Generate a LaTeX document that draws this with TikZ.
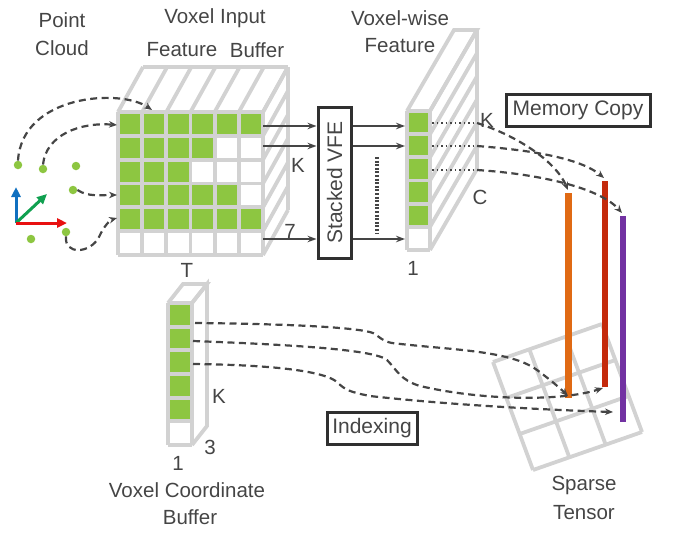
\documentclass[tikz,border=0pt]{standalone}
\usepackage{fontspec}
\setmainfont{Liberation Sans}
\usetikzlibrary{arrows.meta,calc}
\definecolor{gridc}{HTML}{D2D2D2}
\definecolor{vg}{HTML}{8DC641}
\definecolor{txt}{HTML}{454545}
\definecolor{barO}{HTML}{E06A14}
\definecolor{barR}{HTML}{C42A0C}
\definecolor{barP}{HTML}{7232A2}
\definecolor{axB}{HTML}{1070C0}
\definecolor{axG}{HTML}{10A050}
\definecolor{axR}{HTML}{E81010}
\tikzset{
 gl/.style={draw=gridc, line width=3.8},
 lbl/.style={text=txt, font=\fontsize{20.5}{23}\selectfont, inner sep=0},
 dsh/.style={draw=txt, line width=2.2, dash pattern=on 7pt off 4.5pt, -{Stealth[length=8pt,width=6.5pt]}},
 dtd/.style={draw=txt, line width=1.5, dash pattern=on 1.5pt off 3pt},
 sol/.style={draw=txt, line width=1.6, -{Stealth[length=9pt,width=6.5pt]}},
 boxed/.style={draw=txt!70!black, line width=3, text=txt, font=\fontsize{21}{23}\selectfont, inner sep=0},
 dotg/.style={fill=vg, circle, inner sep=0, minimum size=8.5pt},
 axis/.style={line width=3, -{Triangle[length=10pt,width=9pt]}},
}
\begin{document}
\begin{tikzpicture}[x=1pt,y=-1pt]
\useasboundingbox (0,0) rectangle (700,536);

% ---------- main voxel input feature buffer ----------
\def\cw{24.1667}\def\ch{23.8333}
% top face
\foreach \i in {0,...,6} \draw[gl] ({118+\i*\cw},112) -- ++(25,-45);
\draw[gl] (143,67) -- (288,67);
% right face
\foreach \j in {0,...,6} \draw[gl] (263,{112+\j*\ch}) -- ++(25,-45);
\draw[gl] (288,67) -- (288,210);
% front face
\fill[white] (118,112) rectangle (263,255);
\foreach \r/\n in {0/5,1/3,2/2,3/4,4/5}
  \foreach \c in {0,...,\n}
    \fill[vg] ({118+\c*\cw},{112+\r*\ch}) rectangle ++(\cw,\ch);
\foreach \i in {0,...,6} \draw[gl] ({118+\i*\cw},112) -- ++(0,143);
\foreach \j in {0,...,6} \draw[gl] (118,{112+\j*\ch}) -- ++(145,0);

% ---------- voxel-wise feature ----------
\def\vh{23.1667}
\draw[gl] (407,111) -- (454,30) -- (477,30) -- (430,111);
\foreach \j in {0,...,6} \draw[gl] (430,{111+\j*\vh}) -- ++(47,-81);
\draw[gl] (477,30) -- (477,169);
\fill[white] (407,111) rectangle (430,250);
\foreach \j in {0,...,4} \fill[vg] (407,{111+\j*\vh}) rectangle ++(23,\vh);
\foreach \j in {0,...,6} \draw[gl] (407,{111+\j*\vh}) -- ++(23,0);
\draw[gl] (407,111) -- (407,250) (430,111) -- (430,250);

% ---------- voxel coordinate buffer ----------
\def\bh{23.6667}
\draw[gl] (168,303) -- (183,284) -- (207,284) -- (192,303);
\draw[gl] (192,303) -- (207,284) -- (207,426) -- (192,445);
\fill[white] (168,303) rectangle (192,445);
\foreach \j in {0,...,4} \fill[vg] (168,{303+\j*\bh}) rectangle ++(24,\bh);
\foreach \j in {0,...,6} \draw[gl] (168,{303+\j*\bh}) -- ++(24,0);
\draw[gl] (168,303) -- (168,445) (192,303) -- (192,445);

% ---------- sparse tensor ----------
\foreach \i in {0,...,3} {
  \draw[gl] ({493+\i*109/3},{362-\i*38/3}) -- ++(40,108);
  \draw[gl] ({493+\i*40/3},{362+\i*108/3}) -- ++(109,-38);
}

% ---------- bars ----------
\draw[draw=barO, line width=7] (568,193) -- (568,398);
\draw[draw=barR, line width=6.5] (605,181) -- (605,387);
\draw[draw=barP, line width=6.5] (623,216) -- (623,422);

% ---------- labels ----------
\node[lbl] (lpoint) at (62,20) {Point};
\node[lbl] (lcloud) at (62,48) {Cloud};
\node[lbl] (lvin) at (215,18) {Voxel Input};
\node[lbl] (lfeat) at (182,50) {Feature};
\node[lbl] (lbuf) at (257,50) {Buffer};
\node[lbl] (lK1) at (298,165) {K};
\node[lbl] (l7) at (290,231) {7};
\node[lbl] (lT) at (187,270) {T};
\node[lbl] (lvw) at (400,18) {Voxel-wise};
\node[lbl] (lvf) at (400,46) {Feature};
\node[lbl] (lK2) at (487,120) {K};
\node[lbl] (lC) at (480,197) {C};
\node[lbl] (l1a) at (413,268) {1};
\node[lbl] (lK3) at (219,396) {K};
\node[lbl] (l3) at (210,447) {3};
\node[lbl] (l1b) at (178,463) {1};
\node[lbl] (lvc) at (187,490) {Voxel Coordinate};
\node[lbl] (lvcb) at (190,517) {Buffer};
\node[lbl] (lsp) at (584,485) {Sparse};
\node[lbl] (lte) at (584,513) {Tensor};

\node[boxed, minimum width=144, minimum height=32] (mem) at (578,110) {Memory Copy};
\node[boxed, minimum width=90, minimum height=32] (idx) at (372,428) {Indexing};
\node[boxed, minimum width=151, minimum height=33, rotate=90] (vfe) at (334.5,182.5) {Stacked VFE};

% ---------- point cloud ----------
\node[dotg] (p1) at (18,165) {};
\node[dotg] (p2) at (43,169) {};
\node[dotg] (p3) at (76,166) {};
\node[dotg] (p4) at (73,190) {};
\node[dotg] (p5) at (31,239) {};
\node[dotg] (p6) at (66,232) {};
\coordinate (ax) at (16,223);
\coordinate (axu) at (16,187);
\coordinate (axd) at (47,194);
\coordinate (axr) at (67,223);
\draw[axis, draw=axB, fill=axB] (ax) -- (axu);
\draw[axis, draw=axG, fill=axG] (ax) -- (axd);
\draw[axis, draw=axR, fill=axR] (ax) -- (axr);

% point -> buffer
\coordinate (g1) at (152,110);
\coordinate (g2) at (117,125);
\coordinate (g3) at (117,195);
\coordinate (g4) at (117,218);
\draw[dsh] (p1.north) .. controls (22,95) and (120,88) .. (g1);
\draw[dsh] (p2.north) .. controls (46,135) and (80,122) .. (g2);
\draw[dsh] (p4.east) .. controls (88,197) and (100,195) .. (g3);
\draw[dsh] (p6.south) .. controls (64,255) and (90,254) .. (99,237) .. controls (104,226) and (110,220) .. (g4);

% buffer -> VFE -> voxel-wise
\coordinate (s1) at (263,126);
\coordinate (s2) at (263,146);
\coordinate (s3) at (263,239);
\draw[sol] (s1) -- (s1 -| vfe.north);
\draw[sol] (s2) -- (s2 -| vfe.north);
\draw[sol] (s3) -- (s3 -| vfe.north);
\coordinate (t1) at (405,126);
\coordinate (t2) at (405,146);
\coordinate (t3) at (405,239);
\draw[sol] (t1 -| vfe.south) -- (t1);
\draw[sol] (t2 -| vfe.south) -- (t2);
\draw[sol] (t3 -| vfe.south) -- (t3);
\coordinate (dv1) at (377,157);
\coordinate (dv2) at (377,233);
\draw[draw=txt, line width=3.5, dash pattern=on 2pt off 1.6pt] (dv1) -- (dv2);

% memory copy
\coordinate (f1) at (432,123);
\coordinate (f2) at (432,146);
\coordinate (f3) at (432,170);
\coordinate (e1) at (477,123);
\coordinate (e2) at (477,146);
\coordinate (e3) at (477,170);
\draw[dtd] (f1) -- (e1);
\draw[dtd] (f2) -- (e2);
\draw[dtd] (f3) -- (e3);
\coordinate (oT) at (568,190);
\coordinate (rT) at (604,178);
\coordinate (pT) at (622,213);
\draw[dsh] (e1) .. controls (515,135) and (555,160) .. (oT);
\draw[dsh] (e2) .. controls (530,150) and (580,158) .. (rT);
\draw[dsh] (e3) .. controls (540,174) and (600,188) .. (pT);

% indexing
\coordinate (c1) at (195,323);
\coordinate (c2) at (193,341);
\coordinate (c3) at (193,364);
\coordinate (oB) at (568,396);
\coordinate (rB) at (603,388);
\coordinate (pB) at (613,412);
\draw[dsh] (c1) .. controls (300,324) and (360,328) .. (373,333) .. controls (380,337) and (382,341) .. (392,343) .. controls (450,350) and (510,350) .. (537,370) .. controls (552,381) and (562,390) .. (oB);
\draw[dsh] (c2) .. controls (300,345) and (375,350) .. (387,360) .. controls (397,370) and (400,380) .. (420,386) .. controls (480,400) and (560,402) .. (rB);
\draw[dsh] (c3) .. controls (280,365) and (325,372) .. (337,382) .. controls (345,390) and (350,392) .. (370,396) .. controls (450,405) and (550,410) .. (pB);
\end{tikzpicture}
\end{document}
